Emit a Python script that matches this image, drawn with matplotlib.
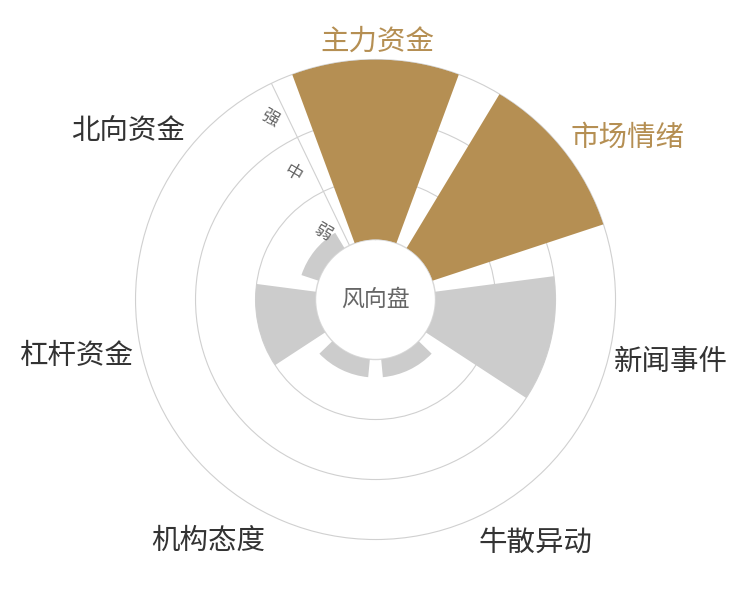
import numpy as np
import matplotlib
matplotlib.use('Agg')
import matplotlib.pyplot as plt
import matplotlib.transforms as mtransforms

plt.rcParams['font.family'] = ['Noto Sans CJK SC', 'DejaVu Sans']

# 风向盘 data: 0..3 scale (弱 / 中 / 强)
categories = ['主力资金', '市场情绪', '新闻事件', '牛散异动', '机构态度', '杠杆资金', '北向资金']
values = [3, 3, 2, 0.3, 0.3, 1, 0.3]
level_labels = ['弱', '中', '强']

GOLD = '#b58f53'
GRAY = '#cccccc'
LINE = '#d0d0d0'

# layout of the outer labels (angle in deg clockwise from top, radius in data units)
label_theta = [0.3, 56.8, 101.3, 146.3, 215.0, 259.8, 304.6]
label_r = [3.35, 4.01, 4.02, 3.82, 3.85, 4.05, 4.02]
# layout of the level labels along the radius axis
level_theta = [-37.6, -33.1, -30.2]
level_r = [0.43, 1.51, 2.5]

fig = plt.figure(figsize=(7.5, 6), dpi=100)
ax = fig.add_axes([0.1807, 0.1008, 0.64, 0.8], projection='polar')
ax.set_theta_zero_location('N')
ax.set_theta_direction(-1)
ax.set_rorigin(-1)
ax.set_ylim(0, 3)

n = len(categories)
step = 2 * np.pi / n
theta = np.arange(n) * step
colors = [GOLD if v >= 3 else GRAY for v in values]
ax.bar(theta, values, width=step * 0.79, bottom=0, color=colors, edgecolor='none', zorder=3)

# rings
ax.set_xticks([])
ax.set_yticks([1, 2])
ax.set_yticklabels([])
ax.yaxis.grid(True, color=LINE, lw=0.8, zorder=0)
ax.xaxis.grid(False)
ax.spines['polar'].set_color(LINE)
ax.spines['polar'].set_linewidth(0.8)
ax.spines['inner'].set_color('#d8d8d8')
ax.spines['inner'].set_linewidth(1.0)
ax.set_axisbelow(True)

# radius axis line between 北向资金 and 主力资金
axis_t = -step / 2
ax.plot([axis_t, axis_t], [0, 3], color=LINE, lw=0.8, zorder=1)

# centre title
ax.text(0.5, 0.5, '风向盘', transform=ax.transAxes, ha='center', va='center',
        fontsize=16.5, color='#666666', zorder=6)

for lab, t, r in zip(level_labels, level_theta, level_r):
    ax.text(np.deg2rad(t), r, lab, ha='center', va='center', rotation=-30,
            fontsize=12.5, color='#666666', zorder=6)

# nudge outer labels down a few pixels
shift = ax.transData + mtransforms.ScaledTranslation(0, -3 / 100, fig.dpi_scale_trans)
for lab, t, r, v in zip(categories, label_theta, label_r, values):
    ax.text(np.deg2rad(t), r, lab, ha='center', va='center', fontsize=20.5,
            color=GOLD if v >= 3 else '#333333', clip_on=False, transform=shift)

fig.savefig('out.png', dpi=100)
